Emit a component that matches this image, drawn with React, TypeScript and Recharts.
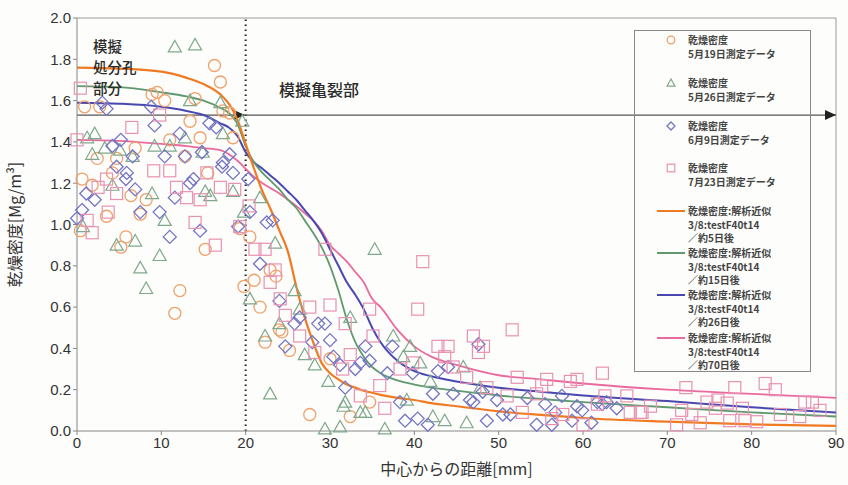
import { ComposedChart, Scatter, Line, XAxis, YAxis, ReferenceLine, Label } from "recharts";

// --- axes ---
const xTicks = [0, 10, 20, 30, 40, 50, 60, 70, 80, 90];
const yTicks = [0, 0.2, 0.4, 0.6, 0.8, 1.0, 1.2, 1.4, 1.6, 1.8, 2.0];

// --- fitted curves (analysis approximation) ---
const curveX = [0, 5, 10, 13, 15, 17, 18, 19, 20, 21, 22, 23, 24, 25, 26, 27, 28, 29, 30, 31, 32, 33, 34, 35, 36, 38, 40, 42, 45, 50, 55, 60, 70, 80, 90];
const fit5d = [1.76, 1.755, 1.74, 1.71, 1.68, 1.63, 1.585, 1.51, 1.39, 1.27, 1.16, 1.07, 0.97, 0.87, 0.7, 0.55, 0.43, 0.33, 0.28, 0.25, 0.225, 0.21, 0.195, 0.185, 0.175, 0.16, 0.15, 0.135, 0.12, 0.095, 0.078, 0.063, 0.045, 0.032, 0.025];
const fit15d = [1.67, 1.665, 1.64, 1.62, 1.6, 1.565, 1.54, 1.49, 1.38, 1.3, 1.25, 1.21, 1.17, 1.12, 1.08, 1.02, 0.96, 0.89, 0.8, 0.68, 0.54, 0.43, 0.36, 0.31, 0.28, 0.245, 0.225, 0.21, 0.195, 0.172, 0.155, 0.14, 0.115, 0.09, 0.07];
const fit26d = [1.59, 1.585, 1.57, 1.55, 1.53, 1.49, 1.47, 1.43, 1.35, 1.3, 1.27, 1.235, 1.2, 1.16, 1.12, 1.07, 1.02, 0.96, 0.88, 0.8, 0.72, 0.66, 0.59, 0.5, 0.43, 0.34, 0.29, 0.265, 0.24, 0.21, 0.19, 0.172, 0.145, 0.115, 0.09];
const fit70d = [1.41, 1.405, 1.39, 1.38, 1.37, 1.36, 1.34, 1.31, 1.27, 1.23, 1.2, 1.175, 1.15, 1.12, 1.09, 1.055, 1.02, 0.97, 0.9, 0.86, 0.82, 0.77, 0.72, 0.64, 0.6, 0.49, 0.41, 0.36, 0.32, 0.27, 0.25, 0.23, 0.2, 0.18, 0.16];

// --- measured points [distance mm, dry density] ---
const may19 = [[0.4, 0.97], [0.6, 1.22], [0.9, 1.57], [2.7, 1.57], [1.8, 1.19], [3.5, 1.04], [4.2, 1.25], [4.7, 1.32], [2.4, 1.32], [6.4, 1.14], [8.2, 1.12], [7.5, 1.05], [5.8, 0.94], [5.2, 0.89], [12.2, 0.68], [11.6, 0.57], [15.2, 0.88], [15.5, 1.25], [12.8, 1.33], [19.3, 0.98], [20.5, 0.94], [19.8, 0.7], [16.3, 1.77], [17, 1.69], [8.9, 1.63], [9.5, 1.64], [10.4, 1.6], [14, 1.61], [13.4, 1.5], [14.6, 1.42], [11, 1.41], [17.3, 1.55], [18.1, 1.54], [18.5, 1.42], [6.9, 1.37], [22.9, 0.78], [23.6, 0.75], [21, 0.73], [21.7, 0.6], [24, 0.49], [22.3, 0.43], [25.2, 0.39], [27.6, 0.08], [30, 0.35], [32.4, 0.07], [34.7, 0.14], [24.3, 0.48]];
const may26 = [[11.6, 1.86], [14, 1.87], [13.4, 1.6], [17, 1.59], [19.6, 1.5], [17.3, 1.44], [2.1, 1.44], [1.2, 1.42], [12.8, 1.42], [9.2, 1.38], [11, 1.38], [5.1, 1.36], [3.3, 1.37], [1.8, 1.34], [14.9, 1.35], [6.6, 1.33], [4.2, 1.19], [8.9, 1.15], [15.2, 1.16], [15.8, 1.14], [18.5, 1.16], [10.4, 1.02], [6.9, 0.92], [4.7, 0.9], [9.8, 0.85], [7.5, 0.79], [8.2, 0.69], [0.7, 0.99], [19.8, 1.06], [20.5, 0.64], [23.5, 0.91], [25.8, 0.68], [22.3, 0.46], [24, 0.52], [26.4, 0.59], [22.9, 0.18], [35.3, 0.88], [32.4, 0.55], [28.2, 0.32], [29.8, 0.24], [31.8, 0.14], [29.4, 0.01], [31.2, 0.02], [36.5, 0.01], [34.2, 0.09], [37.5, 0.46], [39.5, 0.41], [41.9, 0.24], [42.2, 0.07], [43.6, 0.05], [46.2, 0.04], [40.7, 0.33], [45.8, 0.31], [39.1, 0.15], [47.8, 0.21], [21.7, 1.13], [27, 0.37], [38.7, 0.36], [31.6, 0.12], [33.6, 0.09]];
const jun9 = [[3, 1.59], [3.5, 1.56], [8.8, 1.57], [9.2, 1.48], [12.2, 1.44], [15.7, 1.49], [16.5, 1.47], [18.1, 1.34], [5.2, 1.41], [4.2, 1.38], [6.6, 1.33], [10.4, 1.33], [12.8, 1.33], [14.8, 1.35], [4.7, 1.28], [17.3, 1.3], [5.8, 1.22], [13.8, 1.22], [20.3, 1.22], [1.1, 1.15], [2.1, 1.12], [0.6, 1.07], [0, 1.03], [5.9, 1.25], [6.9, 1.17], [13.4, 1.2], [11.6, 1.13], [7.5, 1.06], [9.8, 1.06], [11, 0.94], [14.6, 0.97], [17.2, 1.28], [18.5, 1.25], [19.1, 0.99], [20.5, 1.06], [22.5, 1.01], [23.2, 1.02], [21.7, 0.81], [24, 0.63], [26.4, 0.55], [25.8, 0.52], [28.6, 0.52], [29.4, 0.52], [30, 0.44], [27.9, 0.43], [24.7, 0.41], [30.4, 0.36], [31.2, 0.32], [33, 0.3], [33.6, 0.33], [31.8, 0.21], [34.2, 0.41], [34.7, 0.34], [37.4, 0.41], [36.8, 0.28], [38.3, 0.14], [38.9, 0.05], [40.4, 0.06], [41.6, 0.03], [39.8, 0.28], [42.2, 0.18], [42.8, 0.29], [44, 0.31], [44.6, 0.18], [46.6, 0.15], [47.6, 0.42], [48.6, 0.05], [49.8, 0.15], [47, 0.14], [48.1, 0.19], [50.5, 0.08], [51.4, 0.08], [53.4, 0.16], [54.5, 0.03], [55.5, 0.13], [56.7, 0.09], [57.5, 0.17], [59.3, 0.12], [59.9, 0.1], [58.7, 0.05], [61, 0.04], [61.7, 0.14], [62.3, 0.13], [62.8, 0.14], [64, 0.11], [56.3, 0.03]];
const jul23 = [[0, 1.41], [0.4, 1.66], [6.5, 1.47], [9.8, 1.53], [3.5, 1.22], [4.7, 1.15], [2.5, 1.18], [9.1, 1.26], [11, 1.26], [11.8, 1.18], [15.4, 1.25], [17, 1.18], [18.7, 1.17], [13, 1.13], [1.2, 1.02], [1.8, 0.96], [3.7, 1.06], [14.6, 1.12], [14, 1.01], [16.4, 0.9], [19.3, 0.99], [20.4, 1.09], [21.1, 0.88], [22.3, 0.88], [23.5, 0.78], [22.9, 0.72], [24.1, 0.64], [24.7, 0.56], [27.6, 0.6], [30, 0.61], [29.4, 0.88], [41, 0.82], [34.7, 0.59], [40.4, 0.59], [31.8, 0.52], [32.4, 0.37], [35.1, 0.46], [35.9, 0.22], [36.5, 0.11], [33.6, 0.17], [26.4, 0.46], [28.2, 0.38], [31.5, 0.3], [38.3, 0.3], [39.8, 0.33], [42.8, 0.41], [44, 0.41], [43.6, 0.36], [47, 0.46], [47.6, 0.38], [48.2, 0.41], [44.6, 0.31], [46.2, 0.26], [48.6, 0.21], [51.6, 0.49], [52.2, 0.26], [55.7, 0.25], [55.1, 0.22], [58.5, 0.24], [59.3, 0.25], [62.3, 0.28], [51, 0.17], [54.5, 0.18], [62.6, 0.17], [65.2, 0.17], [61.7, 0.13], [65.6, 0.09], [66.8, 0.09], [52.8, 0.09], [56.3, 0.06], [60, 0.03], [57.6, 0.08], [72.2, 0.21], [78, 0.21], [81.6, 0.23], [82.8, 0.2], [74.7, 0.14], [76, 0.15], [77.1, 0.135], [75.7, 0.11], [78.9, 0.11], [86.3, 0.14], [87.2, 0.14], [88.1, 0.1], [67, 0.09], [68, 0.12], [71.7, 0.1], [72.9, 0.08], [73.9, 0.04], [77.4, 0.05], [79.2, 0.05], [80.6, 0.045], [83.4, 0.08], [85.7, 0.07], [71.1, 0.03]];

const boundaryX = 20;
const arrowY = 1.53;

const toPts = (arr: number[][]) => arr.map(([x, y]) => ({ x, y }));
const curveData = curveX.map((x, i) => ({ x, f5: fit5d[i], f15: fit15d[i], f26: fit26d[i], f70: fit70d[i] }));

const C = {
  o: "#f0a06a", g: "#7fa98c", b: "#7474c4", p: "#e892b2",
  oL: "#f07a22", gL: "#5f9a6e", bL: "#4848b0", pL: "#ea6a9e",
};

const jp = "'Noto Sans CJK JP', sans-serif";
const num = "'Liberation Sans Narrow', 'Liberation Sans', sans-serif";

const circle = (c: string, r = 6) => (p: any) => <circle cx={p.cx} cy={p.cy} r={r} fill="none" stroke={c} strokeWidth={1.3} />;
const triangle = (c: string, s = 6.5) => (p: any) => (
  <polygon points={`${p.cx},${p.cy - s} ${p.cx - s},${p.cy + s * 0.77} ${p.cx + s},${p.cy + s * 0.77}`} fill="none" stroke={c} strokeWidth={1.2} />
);
const diamond = (c: string, s = 6.5) => (p: any) => (
  <polygon points={`${p.cx},${p.cy - s} ${p.cx + s},${p.cy} ${p.cx},${p.cy + s} ${p.cx - s},${p.cy}`} fill="none" stroke={c} strokeWidth={1.3} />
);
const square = (c: string, s = 6) => (p: any) => <rect x={p.cx - s} y={p.cy - s} width={2 * s} height={2 * s} fill="none" stroke={c} strokeWidth={1.2} />;

const arrowLine = (p: any) => (
  <g>
    <line x1={p.x1} y1={p.y1} x2={p.x2} y2={p.y2} stroke="#555" strokeWidth={1.2} />
    <polygon points={`${p.x2},${p.y2} ${p.x2 - 11},${p.y2 - 5} ${p.x2 - 11},${p.y2 + 5}`} fill="#222" />
  </g>
);

const legendItems = [
  { icon: "o", lines: ["乾燥密度", "5月19日測定データ"], top: 9 },
  { icon: "t", lines: ["乾燥密度", "5月26日測定データ"], top: 52 },
  { icon: "d", lines: ["乾燥密度", "6月9日測定データ"], top: 95 },
  { icon: "s", lines: ["乾燥密度", "7月23日測定データ"], top: 137 },
  { icon: "lo", lines: ["乾燥密度:解析近似", "3/8:testF40t14", "／約5日後"], top: 180 },
  { icon: "lg", lines: ["乾燥密度:解析近似", "3/8:testF40t14", "／約15日後"], top: 222 },
  { icon: "lb", lines: ["乾燥密度:解析近似", "3/8:testF40t14", "／約26日後"], top: 264 },
  { icon: "lp", lines: ["乾燥密度:解析近似", "3/8:testF40t14", "／約70日後"], top: 307 },
];

function LegendIcon({ kind }: { kind: string }) {
  const p = { cx: 14, cy: 7 };
  let el: any = null;
  if (kind === "o") el = circle(C.o, 3.8)(p);
  if (kind === "t") el = triangle(C.g, 4)(p);
  if (kind === "d") el = diamond(C.b, 4)(p);
  if (kind === "s") el = square(C.p, 3.8)(p);
  const lc: any = { lo: C.oL, lg: C.gL, lb: C.bL, lp: C.pL };
  if (lc[kind]) el = <line x1={0} y1={7} x2={28} y2={7} stroke={lc[kind]} strokeWidth={2} />;
  return <svg width={30} height={14} style={{ position: "absolute", left: 22, top: -0.5 }}>{el}</svg>;
}

export default function App() {
  return (
    <div style={{ position: "absolute", left: 0, top: 0, width: 848, height: 485, background: "#fdfdfb" }}>
      <ComposedChart width={848} height={485} data={curveData} margin={{ top: 18, right: 12, left: 17, bottom: 14 }}>
        <XAxis
          dataKey="x"
          type="number"
          domain={[0, 90]}
          ticks={xTicks}
          height={40}
          stroke="#888"
          tickSize={4}
          tick={{ fill: "#333", fontSize: 15, fontFamily: num }}
        >
          <Label value="中心からの距離[mm]" position="insideBottom" offset={-4} style={{ fill: "#333", fontSize: 16, fontFamily: jp }} />
        </XAxis>
        <YAxis
          type="number"
          domain={[0, 2]}
          ticks={yTicks}
          width={60}
          stroke="#888"
          tickSize={4}
          tickFormatter={(v) => v.toFixed(1)}
          tick={{ fill: "#333", fontSize: 15, fontFamily: num }}
        >
          <Label value="乾燥密度[Mg/m³]" angle={-90} position="insideLeft" offset={-2} style={{ fill: "#333", fontSize: 16, fontFamily: jp, textAnchor: "middle" }} />
        </YAxis>
        <ReferenceLine y={2} stroke="#999" />
        <ReferenceLine x={90} stroke="#999" />
        <ReferenceLine x={boundaryX} stroke="#222" strokeWidth={2} strokeDasharray="1.5 3.5" />
        <ReferenceLine segment={[{ x: 0, y: arrowY }, { x: boundaryX - 0.1, y: arrowY }]} shape={arrowLine} />
        <ReferenceLine segment={[{ x: boundaryX, y: arrowY }, { x: 90, y: arrowY }]} shape={arrowLine} />

        <Scatter name="5月19日" data={toPts(may19)} dataKey="y" shape={circle(C.o)} isAnimationActive={false} />
        <Scatter name="5月26日" data={toPts(may26)} dataKey="y" shape={triangle(C.g)} isAnimationActive={false} />
        <Scatter name="6月9日" data={toPts(jun9)} dataKey="y" shape={diamond(C.b)} isAnimationActive={false} />
        <Scatter name="7月23日" data={toPts(jul23)} dataKey="y" shape={square(C.p)} isAnimationActive={false} />

        <Line type="monotone" dataKey="f70" stroke={C.pL} strokeWidth={1.8} dot={false} isAnimationActive={false} />
        <Line type="monotone" dataKey="f26" stroke={C.bL} strokeWidth={2} dot={false} isAnimationActive={false} />
        <Line type="monotone" dataKey="f15" stroke={C.gL} strokeWidth={1.8} dot={false} isAnimationActive={false} />
        <Line type="monotone" dataKey="f5" stroke={C.oL} strokeWidth={2.2} dot={false} isAnimationActive={false} />
      </ComposedChart>

      <div style={{ position: "absolute", left: 93, top: 35, fontFamily: jp, fontSize: 14.5, lineHeight: "21px", color: "#2a2a2a", fontWeight: 500 }}>
        <div>模擬</div>
        <div>処分孔</div>
        <div>部分</div>
      </div>
      <div style={{ position: "absolute", left: 279, top: 77, fontFamily: jp, fontSize: 16, color: "#2a2a2a", fontWeight: 500 }}>模擬亀裂部</div>

      <div style={{ position: "absolute", left: 634, top: 30, width: 175, height: 340, border: "1px solid #888" }}>
        {legendItems.map((it, i) => (
          <div key={i} style={{ position: "absolute", left: 0, top: it.top - 7, width: 175 }}>
            <LegendIcon kind={it.icon} />
            <div style={{ position: "absolute", left: 53, top: 0, fontFamily: jp, fontSize: 10, fontWeight: 700, lineHeight: "13.5px", color: "#444", whiteSpace: "nowrap" }}>
              {it.lines.map((l, j) => <div key={j}>{l}</div>)}
            </div>
          </div>
        ))}
      </div>
    </div>
  );
}
